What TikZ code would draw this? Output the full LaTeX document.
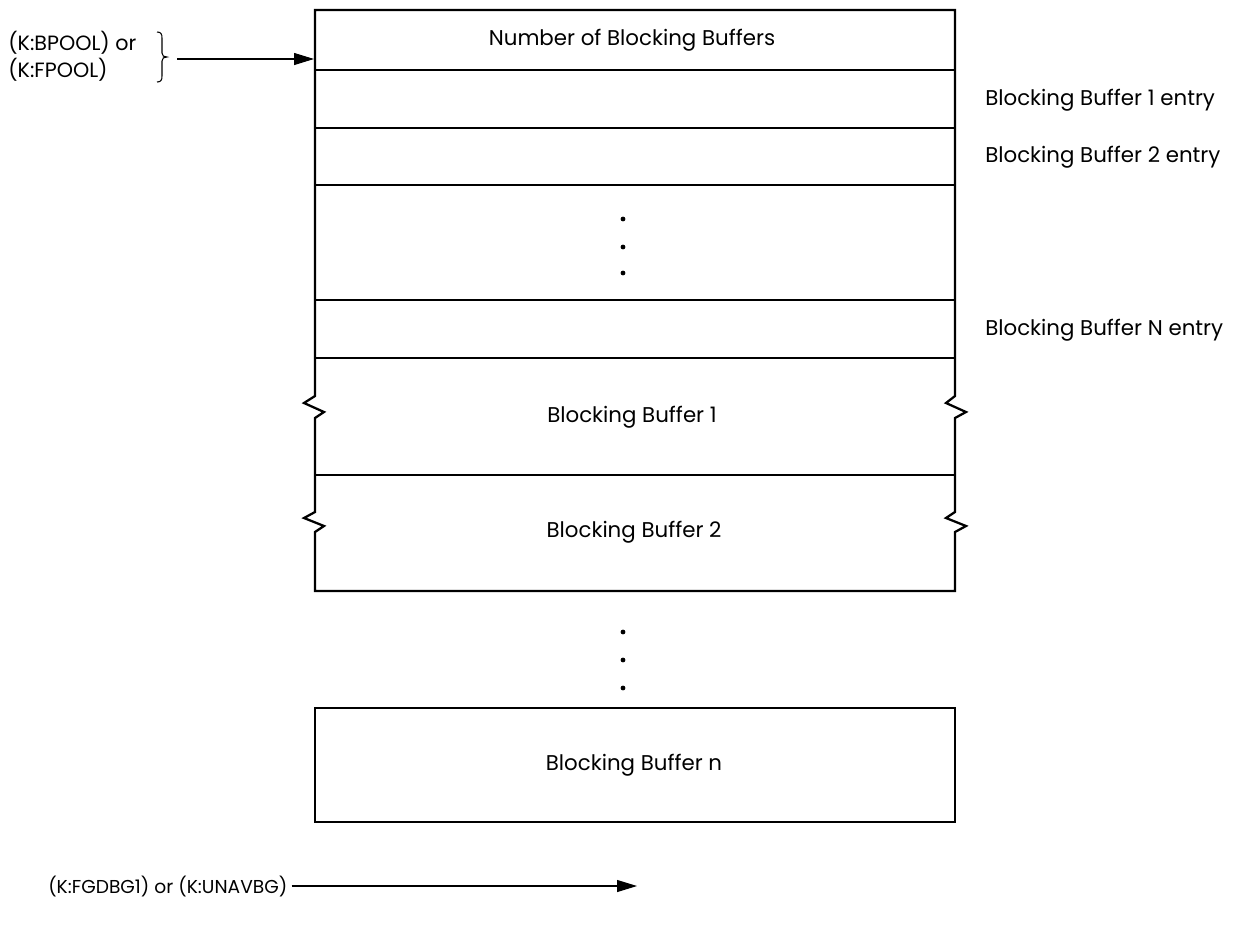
\documentclass[tikz,border=0pt]{standalone}
\usepackage{fontspec}
\setmainfont{Poppins}
\usetikzlibrary{arrows.meta}
\begin{document}
\begin{tikzpicture}[x=0.75pt,y=-0.75pt,
  wall/.style={line width=1.7pt,line join=miter},
  arr/.style={line width=0.8pt,-{Triangle[length=15pt,width=9pt]}},
  lbl/.style={font=\fontsize{16}{18}\selectfont,inner sep=0pt},
  side/.style={font=\fontsize{15.5}{17}\selectfont,inner sep=0pt,anchor=west},
  dotmark/.style={circle,fill=black,inner sep=0pt,minimum size=3.6pt}]
\useasboundingbox (0,0) rectangle (1244,926);
% main box outline with break marks
\draw[wall] (315,10) -- (955,10)
  -- (955,396) -- (946,403) -- (966,412) -- (955,418)
  -- (955,512) -- (946,518) -- (966,526) -- (955,532)
  -- (955,591) -- (315,591)
  -- (315,532) -- (324,526) -- (304,518) -- (315,512)
  -- (315,418) -- (324,412) -- (304,403) -- (315,396)
  -- cycle;
\foreach \yy in {70,128,185,300,358,475}
  \draw[wall] (315,\yy) -- (955,\yy);
% bottom box
\draw[wall] (315,708) rectangle (955,822);
% texts in box
\node[lbl] (hdr) at (632,40) {Number of Blocking Buffers};
\node[lbl] (bb1) at (632,417) {Blocking Buffer 1};
\node[lbl] (bb2) at (634,532) {Blocking Buffer 2};
\node[lbl] (bbn) at (634,765) {Blocking Buffer n};
% right labels
\node[lbl,anchor=west] (e1) at (985,100) {Blocking Buffer 1 entry};
\node[lbl,anchor=west] (e2) at (985,157) {Blocking Buffer 2 entry};
\node[lbl,anchor=west] (eN) at (985,330) {Blocking Buffer N entry};
% dots
\node[dotmark] (d1) at (623,219) {};
\node[dotmark] (d2) at (623,247) {};
\node[dotmark] (d3) at (623,273) {};
\node[dotmark] (d4) at (623,632) {};
\node[dotmark] (d5) at (623,660) {};
\node[dotmark] (d6) at (623,688) {};
% top-left labels and brace
\node[side] (kb) at (8,43) {(K:BPOOL) or};
\node[side] (kf) at (8,70) {(K:FPOOL)};
\draw[line width=0.8pt] (157,32) .. controls (161,32) and (162,34) .. (162,38)
  -- (162,53) .. controls (162,56) and (164,57) .. (167,57)
  .. controls (164,57) and (162,58) .. (162,61)
  -- (162,76) .. controls (162,80) and (161,82) .. (157,82);
\coordinate (bt) at (177,59);
\coordinate (boxin) at (314,59);
\draw[arr] (bt) -- (boxin);
% bottom label and arrow
\node[lbl,anchor=west,font=\fontsize{14}{17}\selectfont] (kg) at (48,886) {(K:FGDBG1) or (K:UNAVBG)};
\coordinate (kgend) at (637,886);
\draw[arr] ([xshift=3pt]kg.east) -- (kgend);
\end{tikzpicture}
\end{document}
